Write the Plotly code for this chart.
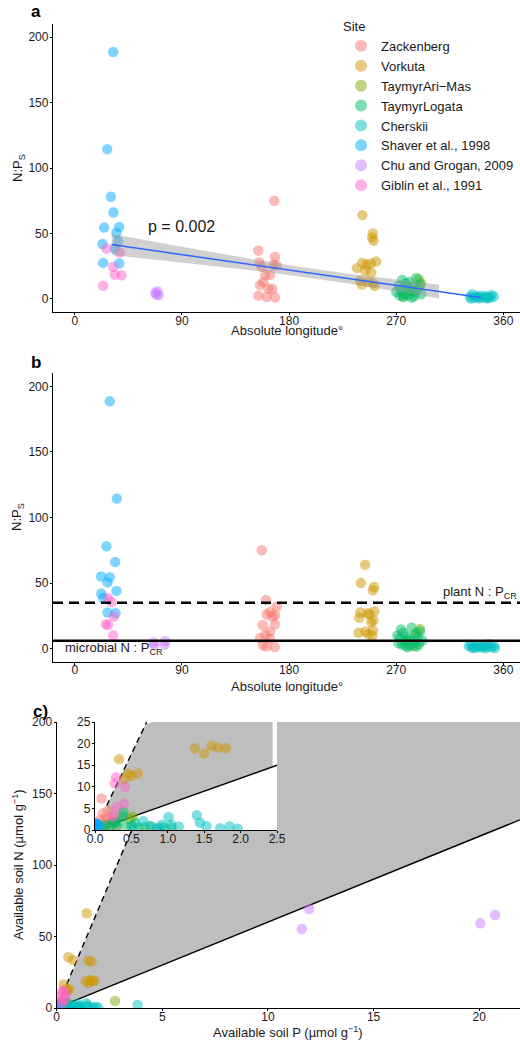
import plotly.graph_objects as go

# ---------------- data ----------------
site_names = ["Zackenberg", "Vorkuta", "TaymyrAri\u2212Mas", "TaymyrLogata", "Cherskii",
              "Shaver et al., 1998", "Chu and Grogan, 2009", "Giblin et al., 1991"]
site_colors = ["#F8766D", "#CD9600", "#7CAE00", "#00BE67", "#00BFC4",
               "#00A9FF", "#C77CFF", "#FF61CC"]

# N:P (soil) per site, with jittered absolute longitude as drawn in panel a and b
zack_np = [75, 37, 32, 28, 26, 25.5, 24.5, 18.5, 18, 13, 10.5, 8, 7.5, 2.5, 1.5, 1.2]
zack_lon_a = [167.6, 154.2, 168.2, 155, 166.8, 169.6, 157, 164, 160, 158.4, 155.6, 162.6, 166, 154.2, 161.2, 168.2]
zack_lon_b = [157, 160.6, 169.6, 164, 161.2, 168.2, 166, 168.2, 157.8, 164, 160, 155.6, 164, 158, 161, 168]

vork_np = [64, 50, 47, 44.5, 28.5, 27.5, 27, 26, 23.5, 21.5, 20, 14, 13, 12, 11, 10]
vork_lon_a = [241.6, 250.4, 249.8, 251, 253.2, 241.4, 248.7, 245, 237, 243.9, 249, 239.7, 246, 250.4, 241, 252]
vork_lon_b = [243.9, 240.3, 251.5, 250.4, 251.7, 240, 246, 247.5, 239, 251, 249, 250.4, 244, 238.3, 246.7, 250]

arimas_np = [15, 12, 6, 2]
arimas_lon_a = [289, 291, 283, 276]
arimas_lon_b = [290, 287, 279, 285]

logata_np = [16, 14.5, 13, 12, 11, 10, 9, 8.5, 8, 7, 6, 5.5, 5, 4, 3.5, 3, 2.5, 2, 1.5, 1]
logata_lon_a = [287, 275, 281, 278, 290, 272, 284, 279, 288, 274, 282, 270, 286, 277, 291, 280, 273, 285, 276, 283]
logata_lon_b = [283, 274, 290, 276, 286, 271, 279, 288, 273, 281, 292, 277, 285, 272, 289, 275, 282, 278, 287, 280]

cher_np = [3.5, 3, 2.5, 2.2, 2, 1.8, 1.5, 1.3, 1.2, 1, 0.8, 0.6, 0.5, 0.4, 0.3]
cher_lon_a = [334, 350, 341, 345, 337, 352, 332, 347, 339, 343, 336, 349, 340, 346, 333]
cher_lon_b = [348, 333, 344, 338, 352, 331, 346, 340, 335, 350, 342, 337, 353, 334, 345]

shaver_np = [188.6, 114.4, 78, 66, 54.5, 55, 50.5, 42, 44, 38.5, 27.5, 27]
shaver_lon_a = [32.2, 27.2, 30.3, 32.5, 24.7, 37.3, 35, 23.3, 36.4, 33.6, 23.8, 37.3]
shaver_lon_b = [29.4, 35.3, 26.6, 33.9, 29.4, 22.2, 27.5, 22.2, 35, 23.8, 27.5, 34.2]

chu_np = [4.7, 5.8, 3.0, 3.1]
chu_lon_a = [67.5, 69.5, 70.5, 68.5]
chu_lon_b = [66, 76, 67, 75.5]

giblin_np = [38.5, 35.5, 24.5, 18.5, 18, 10]
giblin_lon_a = [26.6, 37.8, 32.2, 33.6, 39.3, 23.8]
giblin_lon_b = [28, 30.9, 32.8, 26.1, 28, 32.2]

# regression (panel a)
reg_x = [31, 341]
reg_y = [41.5, 1.0]
band_x = [31, 70, 110, 150, 190, 230, 270, 306]
band_hi = [49.5, 43.0, 36.6, 30.3, 24.4, 19.2, 14.6, 10.85]
band_lo = [33.5, 29.8, 25.8, 21.7, 17.0, 11.8, 6.0, 0.35]
p_label = "p = 0.002"

# critical ratios (panel b)
plant_crit = 35
microbial_crit = 6

# available soil P and N (panel c)
zack_P = [0.09, 0.18, 0.11, 0.07, 0.27, 0.03, 0.14, 0.05, 0.21, 0.16, 0.30, 0.24, 0.10, 0.20, 0.13, 0.06]
zack_N = [7.3, 4.6, 3.9, 2.3, 3.1, 1.5, 2.8, 0.9, 1.6, 2.4, 0.6, 2.0, 0.5, 0.4, 1.0, 0.4]
vork_P = [1.42, 0.55, 0.77, 1.50, 1.65, 1.37, 1.50, 1.60, 1.69, 1.80, 0.33, 0.46, 0.50, 0.59, 0.40]
vork_N = [66.2, 35.5, 33.6, 33.0, 32.4, 18.9, 17.7, 19.5, 19.1, 18.9, 16.4, 13.1, 12.5, 13.1, 11.8]
arimas_P = [0.52, 0.47, 2.76]
arimas_N = [3.1, 2.6, 4.9]
logata_P = [0.15, 0.20, 0.25, 0.30, 0.33, 0.39, 0.39, 0.44, 0.50, 0.55, 0.60, 0.68, 0.75, 0.85, 0.95, 1.05, 0.28, 0.12]
logata_N = [1.2, 0.8, 1.5, 0.8, 2.0, 4.2, 3.1, 0.8, 1.0, 1.6, 0.5, 0.7, 0.9, 0.4, 0.6, 0.5, 1.8, 0.3]
cher_P = [0.53, 0.66, 0.78, 0.89, 0.92, 1.01, 1.05, 1.15, 1.40, 1.44, 1.53, 1.72, 1.85, 1.96, 3.83]
cher_N = [0.8, 2.1, 0.8, 0.5, 1.2, 3.0, 1.2, 0.8, 3.4, 1.7, 0.9, 0.4, 0.8, 0.3, 2.1]
shaver_P = [0.008, 0.012, 0.015, 0.02, 0.018, 0.025, 0.022, 0.03, 0.02, 0.028, 0.035, 0.04]
shaver_N = [1.5, 1.4, 1.2, 1.3, 1.0, 1.4, 1.1, 1.3, 0.85, 1.1, 0.95, 1.1]
chu_P = [11.6, 11.95, 20.05, 20.75]
chu_N = [55.2, 69.2, 59.2, 65.0]
giblin_P = [0.29, 0.27, 0.41, 0.30, 0.40, 0.25]
giblin_N = [12.2, 10.8, 10.0, 5.4, 6.2, 3.1]

# shaded region between the critical lines (panel c main and inset)
poly_main_P = [0.47, 5.71, 21.93, 21.93, 0.50]
poly_main_N = [16.5, 200, 200, 131.6, 3.0]
dash_main_P = [0.47, 5.71]
dash_main_N = [16.5, 200]
solid_main_P = [0.50, 21.93]
solid_main_N = [3.0, 131.6]

poly_ins_P = [0.16, 0.69, 0.78, 2.44, 2.44, 0.20]
poly_ins_N = [5.6, 24.3, 25, 25, 14.6, 1.2]
dash_ins_P = [0.16, 0.71]
dash_ins_N = [5.6, 25]
solid_ins_P = [0.20, 2.5]
solid_ins_N = [1.2, 15.0]

np_vals = [zack_np, vork_np, arimas_np, logata_np, cher_np, shaver_np, chu_np, giblin_np]
lon_a = [zack_lon_a, vork_lon_a, arimas_lon_a, logata_lon_a, cher_lon_a, shaver_lon_a, chu_lon_a, giblin_lon_a]
lon_b = [zack_lon_b, vork_lon_b, arimas_lon_b, logata_lon_b, cher_lon_b, shaver_lon_b, chu_lon_b, giblin_lon_b]
P_vals = [zack_P, vork_P, arimas_P, logata_P, cher_P, shaver_P, chu_P, giblin_P]
N_vals = [zack_N, vork_N, arimas_N, logata_N, cher_N, shaver_N, chu_N, giblin_N]

# ---------------- figure ----------------
W, H = 520, 1043
FONT = "Liberation Sans, Arial, sans-serif"
TXT = "#1a1a1a"
MS = 10.5
OP = 0.5


def px_x(p):
    return p / W


def px_y(p):
    return 1 - p / H


fig = go.Figure()

# panel a points
for name, col, xs, ys in zip(site_names, site_colors, lon_a, np_vals):
    fig.add_trace(go.Scatter(x=xs, y=ys, mode="markers", name=name, legendgroup=name,
                             marker=dict(color=col, size=MS, opacity=OP, line=dict(width=0)),
                             xaxis="x", yaxis="y", showlegend=True, hoverinfo="skip"))

# regression band + line
fig.add_trace(go.Scatter(x=band_x + band_x[::-1], y=band_hi + band_lo[::-1], fill="toself",
                         fillcolor="rgba(153,153,153,0.45)", line=dict(width=0), mode="lines",
                         xaxis="x", yaxis="y", showlegend=False, hoverinfo="skip"))
fig.add_trace(go.Scatter(x=reg_x, y=reg_y, mode="lines", line=dict(color="#3366FF", width=1.5),
                         xaxis="x", yaxis="y", showlegend=False, hoverinfo="skip"))

# panel b points
for name, col, xs, ys in zip(site_names, site_colors, lon_b, np_vals):
    fig.add_trace(go.Scatter(x=xs, y=ys, mode="markers", name=name, legendgroup=name,
                             marker=dict(color=col, size=MS, opacity=OP, line=dict(width=0)),
                             xaxis="x2", yaxis="y2", showlegend=False, hoverinfo="skip"))
xr_ab = [-18.3, 374]
fig.add_trace(go.Scatter(x=xr_ab, y=[plant_crit, plant_crit], mode="lines",
                         line=dict(color="black", width=2.6, dash="10px,6px"),
                         xaxis="x2", yaxis="y2", showlegend=False, hoverinfo="skip"))
fig.add_trace(go.Scatter(x=xr_ab, y=[microbial_crit, microbial_crit], mode="lines",
                         line=dict(color="black", width=2.6),
                         xaxis="x2", yaxis="y2", showlegend=False, hoverinfo="skip"))

# panel c main
fig.add_trace(go.Scatter(x=poly_main_P, y=poly_main_N, fill="toself", fillcolor="#BEBEBE",
                         line=dict(width=0), mode="lines", xaxis="x3", yaxis="y3",
                         showlegend=False, hoverinfo="skip"))
fig.add_trace(go.Scatter(x=dash_main_P, y=dash_main_N, mode="lines",
                         line=dict(color="black", width=1.4, dash="6px,4px"),
                         xaxis="x3", yaxis="y3", showlegend=False, hoverinfo="skip"))
fig.add_trace(go.Scatter(x=solid_main_P, y=solid_main_N, mode="lines",
                         line=dict(color="black", width=1.4),
                         xaxis="x3", yaxis="y3", showlegend=False, hoverinfo="skip"))
for name, col, xs, ys in zip(site_names, site_colors, P_vals, N_vals):
    fig.add_trace(go.Scatter(x=xs, y=ys, mode="markers", legendgroup=name,
                             marker=dict(color=col, size=MS, opacity=OP, line=dict(width=0)),
                             xaxis="x3", yaxis="y3", showlegend=False, hoverinfo="skip"))

# inset
fig.add_trace(go.Scatter(x=poly_ins_P, y=poly_ins_N, fill="toself", fillcolor="#BEBEBE",
                         line=dict(width=0), mode="lines", xaxis="x4", yaxis="y4",
                         showlegend=False, hoverinfo="skip"))
fig.add_trace(go.Scatter(x=dash_ins_P, y=dash_ins_N, mode="lines",
                         line=dict(color="black", width=1.4, dash="6px,4px"),
                         xaxis="x4", yaxis="y4", showlegend=False, hoverinfo="skip"))
fig.add_trace(go.Scatter(x=solid_ins_P, y=solid_ins_N, mode="lines",
                         line=dict(color="black", width=1.4),
                         xaxis="x4", yaxis="y4", showlegend=False, hoverinfo="skip"))
for name, col, xs, ys in zip(site_names, site_colors, P_vals, N_vals):
    fig.add_trace(go.Scatter(x=xs, y=ys, mode="markers", legendgroup=name,
                             marker=dict(color=col, size=MS, opacity=OP, line=dict(width=0)),
                             xaxis="x4", yaxis="y4", showlegend=False, hoverinfo="skip"))

axis_common = dict(showline=True, linecolor="black", linewidth=1.3, showgrid=False,
                   zeroline=False, ticks="outside", ticklen=2, tickwidth=1.1, tickcolor="black",
                   automargin=False,
                   tickfont=dict(family=FONT, size=12, color=TXT), fixedrange=True)

fig.update_layout(
    width=W, height=H, margin=dict(l=0, r=0, t=0, b=0, autoexpand=False),
    paper_bgcolor="white", plot_bgcolor="rgba(0,0,0,0)",
    font=dict(family=FONT, size=12, color=TXT),
    xaxis=dict(domain=[px_x(53), 1], anchor="y", range=xr_ab, tickvals=[0, 90, 180, 270, 360], **axis_common),
    yaxis=dict(domain=[px_y(312), px_y(24)], anchor="x", range=[-10, 210], tickvals=[0, 50, 100, 150, 200], **axis_common),
    xaxis2=dict(domain=[px_x(53), 1], anchor="y2", range=xr_ab, tickvals=[0, 90, 180, 270, 360], **axis_common),
    yaxis2=dict(domain=[px_y(661.7), px_y(373.3)], anchor="x2", range=[-10, 210], tickvals=[0, 50, 100, 150, 200], **axis_common),
    xaxis3=dict(domain=[px_x(56.7), 1], anchor="y3", range=[0, 21.93], tickvals=[0, 5, 10, 15, 20], **axis_common),
    yaxis3=dict(domain=[px_y(1008), px_y(722)], anchor="x3", range=[0, 200], tickvals=[0, 50, 100, 150, 200], **axis_common),
    xaxis4=dict(domain=[px_x(95), px_x(277)], anchor="y4", range=[0, 2.5], tickvals=[0, 0.5, 1, 1.5, 2, 2.5],
                tickformat=".1f", **axis_common),
    yaxis4=dict(domain=[px_y(830), px_y(722)], anchor="x4", range=[0, 25], tickvals=[0, 5, 10, 15, 20, 25], **axis_common),
    legend=dict(x=px_x(341), y=px_y(14), xanchor="left", yanchor="top",
                title=dict(text="Site", font=dict(family=FONT, size=13, color=TXT)),
                font=dict(family=FONT, size=13, color=TXT), bgcolor="rgba(0,0,0,0)",
                itemsizing="constant", itemwidth=30, tracegroupgap=0),
    showlegend=True,
)

# pull x tick labels closer to the axis line, as in the reference
for ax in ("xaxis", "xaxis2", "xaxis3", "xaxis4"):
    try:
        fig.layout[ax].ticklabelstandoff = -5
    except Exception:
        pass
for ax in ("yaxis", "yaxis2", "yaxis3", "yaxis4"):
    try:
        fig.layout[ax].ticklabelstandoff = -1
    except Exception:
        pass

# white background for the inset panel (covers the main panel behind it)
fig.add_shape(type="rect", xref="x4", yref="y4", x0=-0.1, x1=2.6, y0=-1, y1=26,
              fillcolor="white", line=dict(width=0), layer="below")

ann = []


def add_text(text, x, y, size=13, angle=0, xanchor="center", bold=False, xref="paper", yref="paper"):
    if xref == "paper":
        x, y = px_x(x), px_y(y)
    ann.append(dict(text=("<b>%s</b>" % text) if bold else text, x=x, y=y, xref=xref, yref=yref,
                    xanchor=xanchor, yanchor="middle", showarrow=False, textangle=angle,
                    font=dict(family=FONT, size=size, color="black" if bold else TXT)))


add_text("a", 36, 12, size=17, bold=True)
add_text("b", 36, 362, size=17, bold=True)
add_text("c)", 40, 711, size=17, bold=True)
for y in (168, 517):
    add_text("N:P<sub>S</sub>", 18, y, angle=-90)
for y in (330, 686):
    add_text("Absolute longitude\u00b0", 287, y)
add_text("Available soil P (\u00b5mol g<sup>\u22121</sup>)", 288, 1032)
add_text("Available soil N (\u00b5mol g<sup>\u22121</sup>)", 18, 865, angle=-90)
add_text(p_label, 90, 55, size=16, xref="x", yref="y")
add_text("plant N : P<sub>CR</sub>", 519, 592, xanchor="right")
add_text("microbial N : P<sub>CR</sub>", 63, 648, xanchor="left")
fig.update_layout(annotations=ann)

fig.write_html("out.html", config={"displayModeBar": False},
               post_script="document.body.style.margin='0';document.body.style.padding='0';"
                           "document.body.style.overflow='hidden';")
